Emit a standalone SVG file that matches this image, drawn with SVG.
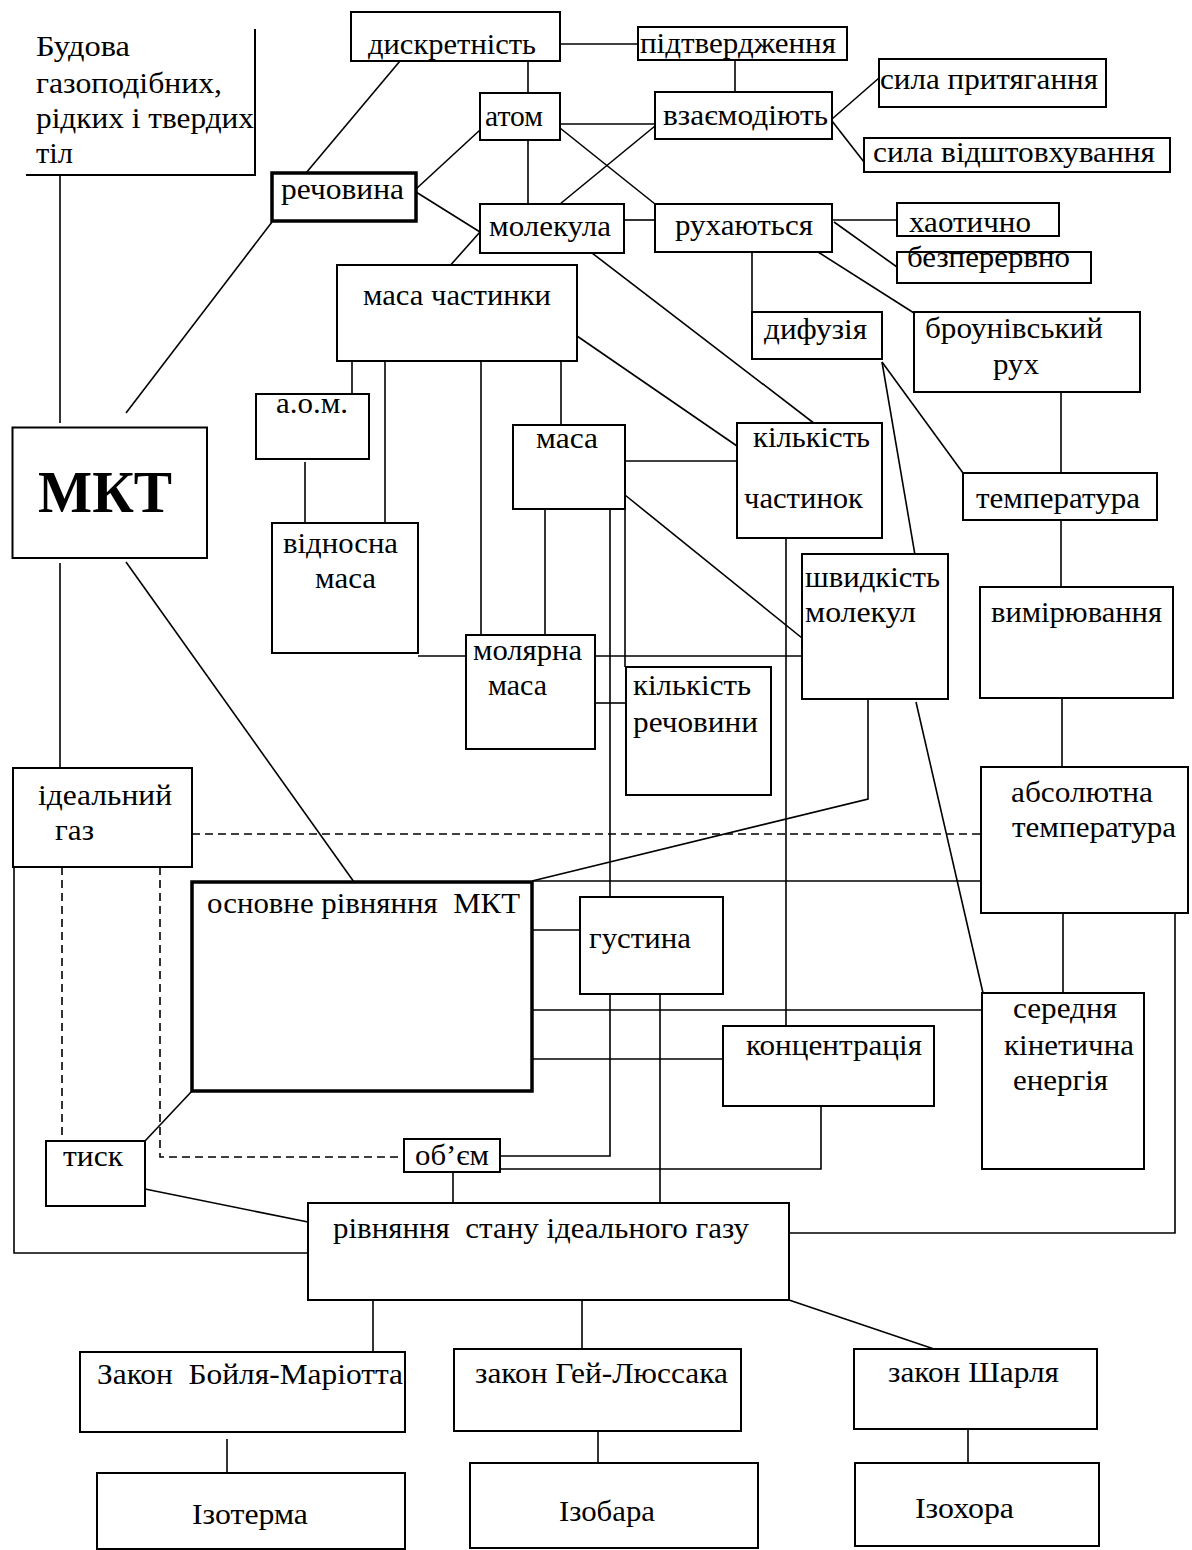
<svg xmlns="http://www.w3.org/2000/svg" width="1192" height="1550" viewBox="0 0 1192 1550">
<style>
.n rect{fill:#fff;stroke:#000;stroke-width:2}
.n .b{stroke-width:3.5}
text{font-family:"Liberation Serif","Times New Roman",serif;font-size:30px;fill:#000;white-space:pre}
.c line,.c polyline,.c path{stroke:#000;stroke-width:1.6;fill:none}
.c .d{stroke-dasharray:8 5}
</style>
<rect width="1192" height="1550" fill="#fff"/>
<g id="connectors" class="c">
<line x1="60" y1="175" x2="60" y2="423"/>
<line x1="400" y1="61" x2="306" y2="173"/>
<line x1="560" y1="44" x2="638" y2="44"/>
<line x1="528" y1="61" x2="528" y2="93"/>
<line x1="735" y1="60" x2="735" y2="92"/>
<line x1="832" y1="119" x2="879" y2="78"/>
<line x1="832" y1="121" x2="864" y2="162"/>
<line x1="560" y1="124" x2="655" y2="124"/>
<line x1="560" y1="128" x2="655" y2="204"/>
<line x1="528" y1="140" x2="528" y2="204"/>
<line x1="560" y1="204" x2="655" y2="126"/>
<line x1="416" y1="189" x2="480" y2="130"/>
<line x1="416" y1="192" x2="480" y2="232"/>
<line x1="272" y1="222" x2="126" y2="413"/>
<line x1="624" y1="220" x2="655" y2="220"/>
<line x1="480" y1="232" x2="448" y2="268"/>
<line x1="592" y1="253" x2="815" y2="424"/>
<line x1="832" y1="220" x2="897" y2="220"/>
<line x1="834" y1="222" x2="897" y2="267"/>
<line x1="752" y1="252" x2="752" y2="312"/>
<line x1="818" y1="252" x2="914" y2="313"/>
<line x1="882" y1="362" x2="915" y2="555"/>
<line x1="882" y1="362" x2="963" y2="473"/>
<line x1="1061" y1="392" x2="1061" y2="473"/>
<line x1="1061" y1="520" x2="1061" y2="587"/>
<line x1="1062" y1="698" x2="1062" y2="767"/>
<line x1="1063" y1="913" x2="1063" y2="993"/>
<line x1="916" y1="702" x2="983" y2="993"/>
<polyline points="1175,913 1175,1233 789,1233"/>
<line x1="352" y1="361" x2="352" y2="394"/>
<line x1="385" y1="361" x2="385" y2="523"/>
<line x1="481" y1="361" x2="481" y2="635"/>
<line x1="561" y1="361" x2="561" y2="425"/>
<line x1="577" y1="336" x2="737" y2="446"/>
<line x1="305" y1="462" x2="305" y2="523"/>
<line x1="418" y1="656" x2="466" y2="656"/>
<line x1="625" y1="461" x2="737" y2="461"/>
<line x1="625" y1="495" x2="802" y2="638"/>
<line x1="545" y1="509" x2="545" y2="635"/>
<polyline points="610,509 610,1156 500,1156"/>
<line x1="625" y1="509" x2="625" y2="667"/>
<line x1="595" y1="656" x2="802" y2="656"/>
<line x1="595" y1="703" x2="626" y2="703"/>
<line x1="786" y1="538" x2="786" y2="1026"/>
<polyline points="868,699 868,799 532,881"/>
<line x1="60" y1="563" x2="60" y2="768"/>
<line x1="126" y1="562" x2="354" y2="882"/>
<line class="d" x1="192" y1="834" x2="981" y2="834"/>
<line class="d" x1="62" y1="867" x2="62" y2="1141"/>
<polyline class="d" points="160,867 160,1157 404,1157"/>
<polyline points="14,867 14,1253 308,1253"/>
<line x1="192" y1="1091" x2="145" y2="1141"/>
<line x1="532" y1="881" x2="981" y2="881"/>
<line x1="532" y1="930" x2="580" y2="930"/>
<line x1="532" y1="1010" x2="982" y2="1010"/>
<line x1="532" y1="1059" x2="723" y2="1059"/>
<line x1="660" y1="994" x2="660" y2="1203"/>
<polyline points="821,1106 821,1169 500,1169"/>
<line x1="453" y1="1172" x2="453" y2="1203"/>
<line x1="145" y1="1189" x2="308" y2="1222"/>
<line x1="373" y1="1300" x2="373" y2="1352"/>
<line x1="582" y1="1300" x2="582" y2="1349"/>
<line x1="789" y1="1300" x2="934" y2="1349"/>
<line x1="227" y1="1439" x2="227" y2="1473"/>
<line x1="598" y1="1431" x2="598" y2="1463"/>
<line x1="968" y1="1429" x2="968" y2="1463"/>
</g>
<g id="budova" class="n"><path d="M255,29 V175 H26" fill="none" stroke="#000" stroke-width="2"/>
<text x="36" y="56" textLength="94" lengthAdjust="spacingAndGlyphs">Будова</text><text x="36" y="93" textLength="186" lengthAdjust="spacingAndGlyphs">газоподібних,</text><text x="36" y="128" textLength="218" lengthAdjust="spacingAndGlyphs">рідких і твердих</text><text x="36" y="163" textLength="37" lengthAdjust="spacingAndGlyphs">тіл</text></g>
<g id="dyskretnist" class="n"><rect x="351" y="12" width="209" height="49"/><text x="368" y="54" textLength="168" lengthAdjust="spacingAndGlyphs">дискретність</text></g>
<g id="pidtverdzhennya" class="n"><rect x="638" y="27" width="209" height="33"/><text x="640" y="53" textLength="196" lengthAdjust="spacingAndGlyphs">підтвердження</text></g>
<g id="vzayemodiyut" class="n"><rect x="655" y="92" width="177" height="47"/><text x="663" y="125" textLength="165" lengthAdjust="spacingAndGlyphs">взаємодіють</text></g>
<g id="syla-prytyahannya" class="n"><rect x="879" y="59" width="227" height="48"/><text x="880" y="89" textLength="218" lengthAdjust="spacingAndGlyphs">сила притягання</text></g>
<g id="syla-vidshtovkhuvannya" class="n"><rect x="864" y="138" width="306" height="34"/><text x="873" y="162" textLength="282" lengthAdjust="spacingAndGlyphs">сила відштовхування</text></g>
<g id="atom" class="n"><rect x="480" y="93" width="80" height="47"/><text x="485" y="126" textLength="58" lengthAdjust="spacingAndGlyphs">атом</text></g>
<g id="rechovyna" class="n"><rect class="b" x="272" y="173" width="144" height="48"/><text x="281" y="199" textLength="123" lengthAdjust="spacingAndGlyphs">речовина</text></g>
<g id="molekula" class="n"><rect x="480" y="204" width="144" height="49"/><text x="489" y="236" textLength="122" lengthAdjust="spacingAndGlyphs">молекула</text></g>
<g id="rukhayutsya" class="n"><rect x="655" y="204" width="177" height="48"/><text x="675" y="235" textLength="138" lengthAdjust="spacingAndGlyphs">рухаються</text></g>
<g id="khaotychno" class="n"><rect x="897" y="203" width="162" height="33"/><text x="909" y="232" textLength="122" lengthAdjust="spacingAndGlyphs">хаотично</text></g>
<g id="bezperervno" class="n"><rect x="897" y="252" width="194" height="31"/><text x="907" y="267" textLength="163" lengthAdjust="spacingAndGlyphs">безперервно</text></g>
<g id="dyfuziya" class="n"><rect x="752" y="312" width="130" height="47"/><text x="764" y="339" textLength="103" lengthAdjust="spacingAndGlyphs">дифузія</text></g>
<g id="brounivskyi" class="n"><rect x="914" y="312" width="226" height="80"/><text x="925" y="338" textLength="178" lengthAdjust="spacingAndGlyphs">броунівський</text><text x="993" y="374" textLength="46" lengthAdjust="spacingAndGlyphs">рух</text></g>
<g id="masa-chastynky" class="n"><rect x="337" y="265" width="240" height="96"/><text x="363" y="305" textLength="188" lengthAdjust="spacingAndGlyphs">маса частинки</text></g>
<g id="aom" class="n"><rect x="256" y="394" width="113" height="65"/><text x="276" y="413" textLength="72" lengthAdjust="spacingAndGlyphs">а.о.м.</text></g>
<g id="vidnosna-masa" class="n"><rect x="272" y="523" width="146" height="130"/><text x="283" y="553" textLength="115" lengthAdjust="spacingAndGlyphs">відносна</text><text x="315" y="588" textLength="61" lengthAdjust="spacingAndGlyphs">маса</text></g>
<g id="masa" class="n"><rect x="513" y="425" width="112" height="84"/><text x="536" y="448" textLength="62" lengthAdjust="spacingAndGlyphs">маса</text></g>
<g id="kilkist-chastynok" class="n"><rect x="737" y="423" width="145" height="115"/><text x="753" y="447" textLength="117" lengthAdjust="spacingAndGlyphs">кількість</text><text x="744" y="508" textLength="119" lengthAdjust="spacingAndGlyphs">частинок</text></g>
<g id="shvydkist" class="n"><rect x="802" y="554" width="146" height="145"/><text x="805" y="587" textLength="135" lengthAdjust="spacingAndGlyphs">швидкість</text><text x="805" y="622" textLength="111" lengthAdjust="spacingAndGlyphs">молекул</text></g>
<g id="temperatura" class="n"><rect x="963" y="473" width="194" height="47"/><text x="976" y="508" textLength="164" lengthAdjust="spacingAndGlyphs">температура</text></g>
<g id="vymiryuvannya" class="n"><rect x="980" y="587" width="193" height="111"/><text x="991" y="622" textLength="171" lengthAdjust="spacingAndGlyphs">вимірювання</text></g>
<g id="absolyutna" class="n"><rect x="981" y="767" width="207" height="146"/><text x="1011" y="802" textLength="142" lengthAdjust="spacingAndGlyphs">абсолютна</text><text x="1012" y="837" textLength="164" lengthAdjust="spacingAndGlyphs">температура</text></g>
<g id="molyarna" class="n"><rect x="466" y="635" width="129" height="114"/><text x="473" y="660" textLength="109" lengthAdjust="spacingAndGlyphs">молярна</text><text x="488" y="695" textLength="59" lengthAdjust="spacingAndGlyphs">маса</text></g>
<g id="kilkist-rechovyny" class="n"><rect x="626" y="667" width="145" height="128"/><text x="633" y="695" textLength="118" lengthAdjust="spacingAndGlyphs">кількість</text><text x="633" y="732" textLength="125" lengthAdjust="spacingAndGlyphs">речовини</text></g>
<g id="mkt" class="n"><rect x="12.5" y="427.5" width="194.5" height="130.5" stroke-width="9"/><text x="38" y="512" textLength="134" lengthAdjust="spacingAndGlyphs" style="font-size:60px;font-weight:bold">МКТ</text></g>
<g id="idealnyi-gaz" class="n"><rect x="13" y="768" width="179" height="99" stroke-width="3"/><text x="38" y="805" textLength="134" lengthAdjust="spacingAndGlyphs">ідеальний</text><text x="55" y="840" textLength="39" lengthAdjust="spacingAndGlyphs">газ</text></g>
<g id="osnovne" class="n"><rect class="b" x="192" y="882" width="340" height="209"/><text x="207" y="913" textLength="313" lengthAdjust="spacingAndGlyphs">основне рівняння  МКТ</text></g>
<g id="hustyna" class="n"><rect x="580" y="897" width="143" height="97"/><text x="589" y="948" textLength="102" lengthAdjust="spacingAndGlyphs">густина</text></g>
<g id="kontsentratsiya" class="n"><rect x="723" y="1026" width="211" height="80"/><text x="746" y="1055" textLength="176" lengthAdjust="spacingAndGlyphs">концентрація</text></g>
<g id="serednya" class="n"><rect x="982" y="993" width="162" height="176"/><text x="1013" y="1018" textLength="104" lengthAdjust="spacingAndGlyphs">середня</text><text x="1004" y="1055" textLength="130" lengthAdjust="spacingAndGlyphs">кінетична</text><text x="1013" y="1090" textLength="95" lengthAdjust="spacingAndGlyphs">енергія</text></g>
<g id="obyem" class="n"><rect x="404" y="1139" width="96" height="33"/><text x="415" y="1165" textLength="74" lengthAdjust="spacingAndGlyphs">об’єм</text></g>
<g id="tysk" class="n"><rect x="46" y="1141" width="99" height="65"/><text x="63" y="1166" textLength="60" lengthAdjust="spacingAndGlyphs">тиск</text></g>
<g id="rivnyannya-stanu" class="n"><rect x="308" y="1203" width="481" height="97" stroke-width="2.5"/><text x="333" y="1238" textLength="416" lengthAdjust="spacingAndGlyphs">рівняння  стану ідеального газу</text></g>
<g id="boyle" class="n"><rect x="80" y="1352" width="325" height="80"/><text x="97" y="1384" textLength="306" lengthAdjust="spacingAndGlyphs">Закон  Бойля-Маріотта</text></g>
<g id="gay-lussac" class="n"><rect x="454" y="1349" width="287" height="82"/><text x="475" y="1383" textLength="253" lengthAdjust="spacingAndGlyphs">закон Гей-Люссака</text></g>
<g id="charles" class="n"><rect x="854" y="1349" width="243" height="80"/><text x="888" y="1382" textLength="171" lengthAdjust="spacingAndGlyphs">закон Шарля</text></g>
<g id="izoterma" class="n"><rect x="97" y="1473" width="308" height="76"/><text x="192" y="1524" textLength="116" lengthAdjust="spacingAndGlyphs">Ізотерма</text></g>
<g id="izobara" class="n"><rect x="470" y="1463" width="288" height="85"/><text x="559" y="1521" textLength="96" lengthAdjust="spacingAndGlyphs">Ізобара</text></g>
<g id="izokhora" class="n"><rect x="855" y="1463" width="244" height="83"/><text x="915" y="1518" textLength="99" lengthAdjust="spacingAndGlyphs">Ізохора</text></g>
</svg>
